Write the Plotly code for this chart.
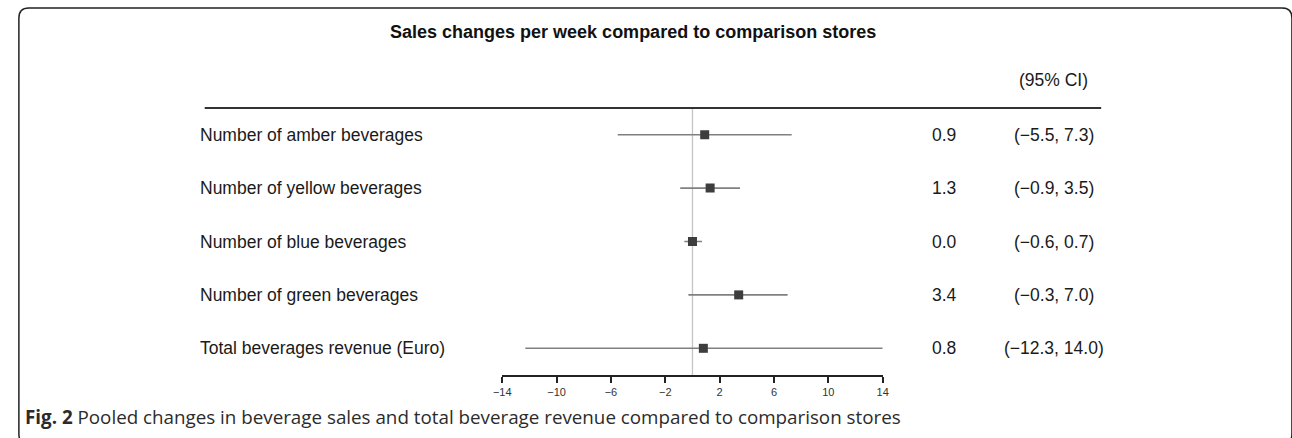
import plotly.graph_objects as go

# ---- data ----
labels = [
    "Number of amber beverages",
    "Number of yellow beverages",
    "Number of blue beverages",
    "Number of green beverages",
    "Total beverages revenue (Euro)",
]
estimates = [0.9, 1.3, 0.0, 3.4, 0.8]
lower = [-5.5, -0.9, -0.6, -0.3, -12.3]
upper = [7.3, 3.5, 0.7, 7.0, 14.0]
tick_values = [-14, -10, -6, -2, 2, 6, 10, 14]
title_text = "Sales changes per week compared to comparison stores"
ci_header = "(95% CI)"
caption_bold = "Fig. 2"
caption_text = "Pooled changes in beverage sales and total beverage revenue compared to comparison stores"

W, H = 1292, 438


def px(x):
    return x / W


def py(y):
    return 1 - y / H


n = len(labels)
ypos = [n - i for i in range(n)]  # top row highest
err_plus = [u - e for u, e in zip(upper, estimates)]
err_minus = [e - l for e, l in zip(estimates, lower)]

fig = go.Figure()
fig.add_trace(go.Scatter(
    x=estimates, y=ypos, mode="markers",
    marker=dict(symbol="square", size=9, color="#3d3d3d"),
    error_x=dict(type="data", symmetric=False, array=err_plus, arrayminus=err_minus,
                 color="#808080", thickness=1.6, width=0),
    hoverinfo="skip", showlegend=False,
))

# reference line at zero
fig.add_shape(type="line", xref="x", yref="y", x0=0, x1=0, y0=0.5, y1=n + 0.5,
              line=dict(color="#c4c4c4", width=1.3), layer="below")

# header rule
fig.add_shape(type="line", xref="paper", yref="paper", x0=px(198), x1=px(1105),
              y0=py(108), y1=py(108), line=dict(color="#333333", width=2))

# rounded frame
x0, y0, x1, y1, r = 10, 8, 1298, 444, 10
path = (f"M {px(x0)},{py(y1 - r)} L {px(x0)},{py(y0 + r)} Q {px(x0)},{py(y0)} {px(x0 + r)},{py(y0)} "
        f"L {px(x1 - r)},{py(y0)} Q {px(x1)},{py(y0)} {px(x1)},{py(y0 + r)} "
        f"L {px(x1)},{py(y1 - r)} Q {px(x1)},{py(y1)} {px(x1 - r)},{py(y1)} "
        f"L {px(x0 + r)},{py(y1)} Q {px(x0)},{py(y1)} {px(x0)},{py(y1 - r)} Z")
fig.add_shape(type="path", xref="paper", yref="paper", path=path,
              line=dict(color="#222222", width=1.5))

font_main = "Liberation Sans, Arial, Helvetica, sans-serif"
fs = 17.5
ann = []
for lab, est, lo, hi, yv in zip(labels, estimates, lower, upper, ypos):
    ann.append(dict(x=px(191), y=yv, xref="paper", yref="y", text=lab, showarrow=False,
                    xanchor="left", yanchor="middle", font=dict(family=font_main, size=fs, color="#1a1a1a")))
    ann.append(dict(x=px(946), y=yv, xref="paper", yref="y", text=f"{est:.1f}", showarrow=False,
                    xanchor="center", yanchor="middle", font=dict(family=font_main, size=fs, color="#1a1a1a")))
    ann.append(dict(x=px(1057), y=yv, xref="paper", yref="y",
                    text=f"({lo:.1f}, {hi:.1f})".replace("-", "\u2212"), showarrow=False,
                    xanchor="center", yanchor="middle", font=dict(family=font_main, size=fs, color="#1a1a1a")))

ann.append(dict(x=px(631), y=py(32), xref="paper", yref="paper", text=f"<b>{title_text}</b>",
                showarrow=False, xanchor="center", yanchor="middle",
                font=dict(family=font_main, size=18, color="#111111")))
ann.append(dict(x=px(1057), y=py(80), xref="paper", yref="paper", text=ci_header,
                showarrow=False, xanchor="center", yanchor="middle",
                font=dict(family=font_main, size=fs, color="#1a1a1a")))
ann.append(dict(x=px(14), y=py(417), xref="paper", yref="paper",
                text=f"<b>{caption_bold}</b> {caption_text}",
                showarrow=False, xanchor="left", yanchor="middle",
                font=dict(family="Open Sans, Noto Sans, sans-serif", size=18.8, color="#2b2b2b")))

fig.update_layout(
    width=W, height=H, autosize=False,
    margin=dict(l=0, r=0, t=0, b=0, pad=0),
    paper_bgcolor="white", plot_bgcolor="white",
    annotations=ann,
    xaxis=dict(domain=[px(499), px(884)], range=[-14, 14], tickvals=tick_values,
               showgrid=False, zeroline=False, showline=True, linecolor="#222222", linewidth=1.5,
               ticks="outside", ticklen=6, tickwidth=1.5, tickcolor="#222222",
               tickfont=dict(family=font_main, size=11, color="#333333"), anchor="y", fixedrange=True),
    yaxis=dict(domain=[py(375), py(108)], range=[0.5, n + 0.5], visible=False,
               showgrid=False, zeroline=False, fixedrange=True),
)

fig.write_html("out.html")
